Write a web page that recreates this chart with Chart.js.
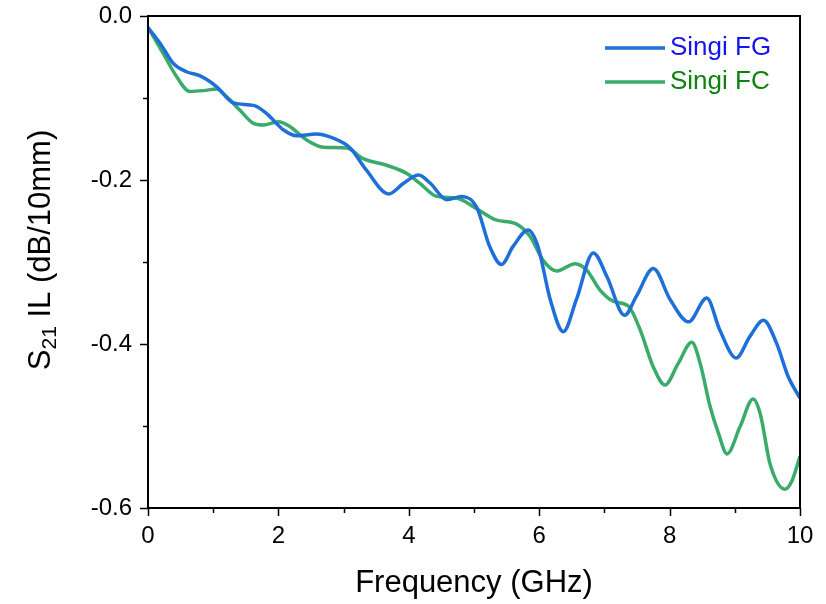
<!DOCTYPE html>
<html>
<head>
<meta charset="utf-8">
<script src="https://cdn.jsdelivr.net/npm/chart.js@4/dist/chart.umd.min.js"></script>
<style>
  html, body { margin: 0; padding: 0; background: #fff; }
  #box { width: 826px; height: 604px; }
</style>
</head>
<body>
<div id="box"><canvas id="ilChart"></canvas></div>
<script>
// Singi FG (blue) - frequency in GHz, loss in dB/10mm
var freqFG = [0, 0.2, 0.39, 0.59, 0.8, 1.05, 1.31, 1.62, 1.82, 2.08, 2.28, 2.58, 2.84, 3.1, 3.35, 3.69, 3.92, 4.15, 4.33, 4.58, 4.81, 5.04, 5.24, 5.42, 5.6, 5.83, 5.98, 6.17, 6.37, 6.57, 6.83, 7.04, 7.31, 7.49, 7.75, 8.01, 8.29, 8.57, 8.77, 9.02, 9.23, 9.44, 9.64, 9.82, 10];
var lossFG = [-0.014, -0.035, -0.058, -0.068, -0.073, -0.086, -0.106, -0.109, -0.119, -0.139, -0.146, -0.144, -0.149, -0.161, -0.188, -0.217, -0.204, -0.194, -0.204, -0.224, -0.220, -0.233, -0.281, -0.303, -0.281, -0.261, -0.281, -0.346, -0.385, -0.346, -0.289, -0.318, -0.365, -0.342, -0.308, -0.346, -0.373, -0.344, -0.383, -0.417, -0.391, -0.371, -0.399, -0.440, -0.466];

// Singi FC (green)
var freqFC = [0, 0.235, 0.44, 0.64, 0.85, 1.05, 1.2, 1.41, 1.62, 1.77, 2.0, 2.18, 2.43, 2.69, 3.05, 3.3, 3.66, 3.97, 4.17, 4.43, 4.73, 5.04, 5.35, 5.63, 5.86, 6.06, 6.27, 6.55, 6.73, 6.93, 7.14, 7.37, 7.55, 7.75, 7.93, 8.13, 8.34, 8.47, 8.62, 8.75, 8.88, 9.08, 9.28, 9.39, 9.54, 9.77, 9.87, 10];
var lossFC = [-0.014, -0.046, -0.074, -0.092, -0.091, -0.089, -0.098, -0.115, -0.131, -0.133, -0.129, -0.135, -0.151, -0.160, -0.161, -0.174, -0.182, -0.192, -0.204, -0.220, -0.222, -0.235, -0.249, -0.253, -0.269, -0.298, -0.311, -0.302, -0.310, -0.334, -0.348, -0.354, -0.383, -0.428, -0.450, -0.424, -0.398, -0.424, -0.476, -0.509, -0.534, -0.501, -0.467, -0.485, -0.546, -0.577, -0.568, -0.537];

var seriesNames = ["Singi FG", "Singi FC"];
var lineColors = ["#1f6fd9", "#3aab6b"];
var textColors = ["#1414ee", "#0f820f"];

var xTicks = [0, 2, 4, 6, 8, 10];
var yTicks = [0, -0.2, -0.4, -0.6];

function toPoints(xs, ys) {
  return xs.map(function (x, i) { return { x: x, y: ys[i] }; });
}

var FONT = "'Liberation Sans', Arial, sans-serif";

// ticks, frame, legend and the y title with a subscript
var extrasPlugin = {
  id: "extras",
  afterDraw: function (chart) {
    var c = chart.ctx;
    var a = chart.chartArea;
    var xs = chart.scales.x, ys = chart.scales.y;
    c.save();
    c.strokeStyle = "#000";
    c.lineWidth = 2;
    c.strokeRect(a.left, a.top, a.right - a.left, a.bottom - a.top);

    c.lineWidth = 1.5;
    c.beginPath();
    for (var v = 0; v <= 10; v++) {
      var px = Math.round(xs.getPixelForValue(v)) + 0.5;
      var len = v % 2 === 0 ? 8 : 5;
      c.moveTo(px, a.bottom);
      c.lineTo(px, a.bottom + len);
    }
    for (var k = 0; k <= 6; k++) {
      var py = Math.round(ys.getPixelForValue(-k / 10)) + 0.5;
      var l2 = k % 2 === 0 ? 8 : 5;
      c.moveTo(a.left, py);
      c.lineTo(a.left - l2, py);
    }
    c.stroke();

    // legend
    c.font = "26px " + FONT;
    c.textBaseline = "middle";
    c.textAlign = "left";
    chart.data.datasets.forEach(function (ds, i) {
      var y = 48 + i * 34;
      c.strokeStyle = ds.borderColor;
      c.lineWidth = 3.5;
      c.beginPath();
      c.moveTo(605, y);
      c.lineTo(665, y);
      c.stroke();
      c.fillStyle = textColors[i];
      c.fillText(ds.label, 670, y);
    });

    // y axis title: S21 IL (dB/10mm)
    c.translate(39, 250);
    c.rotate(-Math.PI / 2);
    c.fillStyle = "#000";
    c.textBaseline = "alphabetic";
    var big = "31px " + FONT, small = "21px " + FONT;
    c.font = big; var w1 = c.measureText("S").width;
    var rest = " IL (dB/10mm)"; var w3 = c.measureText(rest).width;
    c.font = small; var w2 = c.measureText("21").width;
    var x0 = -(w1 + w2 + w3) / 2;
    c.font = big; c.fillText("S", x0, 11);
    c.font = small; c.fillText("21", x0 + w1, 17);
    c.font = big; c.fillText(rest, x0 + w1 + w2, 11);
    c.restore();
  }
};

var ctx = document.getElementById("ilChart").getContext("2d");
var ilChart = new Chart(ctx, {
  type: "line",
  data: {
    datasets: [
      { label: seriesNames[0], data: toPoints(freqFG, lossFG), borderColor: lineColors[0] },
      { label: seriesNames[1], data: toPoints(freqFC, lossFC), borderColor: lineColors[1] }
    ].map(function (d) {
      d.borderWidth = 3.5;
      d.pointRadius = 0;
      d.fill = false;
      d.cubicInterpolationMode = "monotone";
      return d;
    })
  },
  options: {
    responsive: true,
    maintainAspectRatio: false,
    animation: false,
    layout: { padding: { top: 16, right: 26, left: 0, bottom: 0 } },
    plugins: { legend: { display: false }, tooltip: { enabled: false } },
    scales: {
      x: {
        type: "linear",
        min: 0, max: 10,
        afterBuildTicks: function (s) { s.ticks = xTicks.map(function (v) { return { value: v }; }); },
        afterFit: function (s) { s.height = 96; s.paddingLeft = 0; s.paddingRight = 0; },
        grid: { display: true, drawOnChartArea: false, drawTicks: false, color: "transparent" },
        border: { display: false },
        ticks: { color: "#000", font: { size: 24, family: FONT }, padding: 14, maxRotation: 0 },
        title: { display: true, text: "Frequency (GHz)", color: "#000", font: { size: 31, family: FONT }, padding: { top: 4, bottom: 2 } }
      },
      y: {
        type: "linear",
        min: -0.6, max: 0,
        afterBuildTicks: function (s) { s.ticks = yTicks.map(function (v) { return { value: v }; }); },
        afterFit: function (s) { s.width = 148; s.paddingTop = 0; s.paddingBottom = 0; },
        grid: { display: true, drawOnChartArea: false, drawTicks: false, color: "transparent" },
        border: { display: false },
        ticks: {
          color: "#000", font: { size: 24, family: FONT }, padding: 16,
          callback: function (v) { return v === 0 ? "0.0" : v.toFixed(1); }
        }
      }
    }
  },
  plugins: [extrasPlugin]
});
</script>
</body>
</html>
